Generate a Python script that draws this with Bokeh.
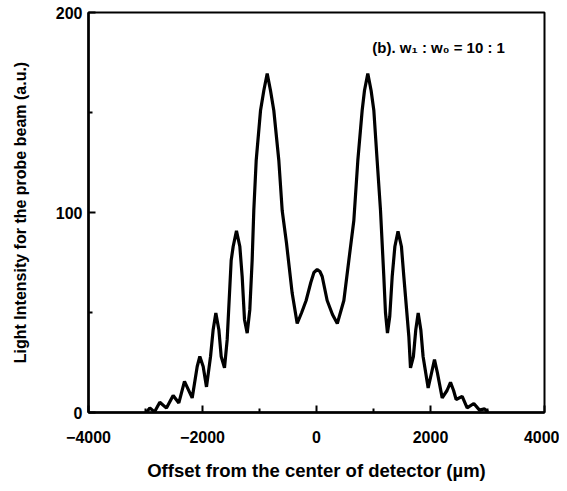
from bokeh.plotting import figure
from bokeh.models import FixedTicker, Label
from bokeh.embed import file_html
from bokeh.resources import INLINE

# Offset (um) and intensity (a.u.)
offset_um = [-2982, -2924, -2842, -2749, -2632, -2515, -2415, -2316, -2181,
             -2093, -2047, -1988, -1930, -1859, -1813, -1766, -1713, -1672,
             -1614, -1567, -1497, -1462, -1404, -1345, -1304, -1263, -1216,
             -1170, -1129, -1100, -1058, -982, -924, -865, -807, -749, -661,
             -602, -526, -427, -339, -260, -182, -100, -45, 12, 60, 100, 187,
             280, 365, 480, 567, 655, 725, 801, 842, 900, 958, 1006, 1064,
             1123, 1181, 1210, 1245, 1285, 1328, 1375, 1430, 1490, 1532, 1620,
             1649, 1700, 1742, 1784, 1830, 1870, 1959, 2020, 2070, 2120, 2205,
             2290, 2351, 2405, 2450, 2556, 2643, 2760, 2860, 2947, 3005]
intensity = [0.3, 2.3, 0.3, 5.1, 2.2, 8.5, 4.8, 15.6, 7.3,
             23, 28, 23, 12.8, 28, 41.4, 49.7, 41.4, 28,
             22.3, 36.4, 76, 83, 90.8, 83, 68, 46.4, 39.7,
             51.4, 76, 101, 126, 151, 161, 169.5, 161, 151, 126,
             101, 84.6, 59.7, 44.5, 50, 56, 65, 70, 71.5, 70.5, 68, 56,
             49, 44.5, 56, 76, 96, 126, 151, 161, 169.5, 161, 151, 126,
             101, 68, 50, 39.7, 48, 68, 83, 90.6, 83, 68, 38,
             22.3, 28, 41.4, 49.7, 41.4, 28, 12.3, 20, 26.4, 20, 7.3,
             11, 15.1, 11, 6.5, 8.1, 2.3, 4.5, 1.2, 1.8, 0.3]

x_major = [-4000, -2000, 0, 2000, 4000]
x_minor = [-3000, -1000, 1000, 3000]
y_major = [0, 100, 200]
y_minor = [50, 150]

FONT = "Liberation Sans"

p = figure(width=559, height=483, x_range=(-4000, 4000), y_range=(0, 200),
           output_backend="svg", toolbar_location=None,
           min_border_left=88, min_border_right=15, min_border_top=12,
           min_border_bottom=70)

p.line(offset_um, intensity, line_color="black", line_width=3.2)

p.grid.visible = False
p.outline_line_color = "black"
p.outline_line_width = 2

for ax in (p.xaxis[0], p.yaxis[0]):
    ax.axis_line_width = 2.5
    ax.axis_line_color = "black"
    ax.major_tick_in = 7
    ax.major_tick_out = 0
    ax.minor_tick_in = 4
    ax.minor_tick_out = 0
    ax.major_tick_line_width = 2
    ax.minor_tick_line_width = 2
    ax.major_label_text_font = FONT
    ax.major_label_text_font_style = "bold"
    ax.major_label_text_font_size = "16px"
    ax.major_label_text_color = "black"
    ax.axis_label_text_font = FONT
    ax.axis_label_text_font_style = "bold"
    ax.axis_label_text_color = "black"

p.xaxis.axis_label_text_font_size = "18.5px"
p.yaxis.axis_label_text_font_size = "16px"
p.xaxis.ticker = FixedTicker(ticks=x_major, minor_ticks=x_minor)
p.yaxis.ticker = FixedTicker(ticks=y_major, minor_ticks=y_minor)
p.xaxis.major_label_standoff = 18
p.yaxis.major_label_standoff = 6
p.xaxis.axis_label = "Offset from the center of detector (\u00b5m)"
p.yaxis.axis_label = "Light Intensity for the probe beam (a.u.)"
p.xaxis.axis_label_standoff = 14
p.yaxis.axis_label_standoff = 24

p.add_layout(Label(x=980, y=182.5, text="(b). w\u2081 : w\u2080 = 10 : 1",
                   text_font=FONT, text_font_style="bold",
                   text_font_size="15px", text_baseline="middle",
                   text_color="black"))

open("out.html", "w").write(file_html(p, INLINE))
